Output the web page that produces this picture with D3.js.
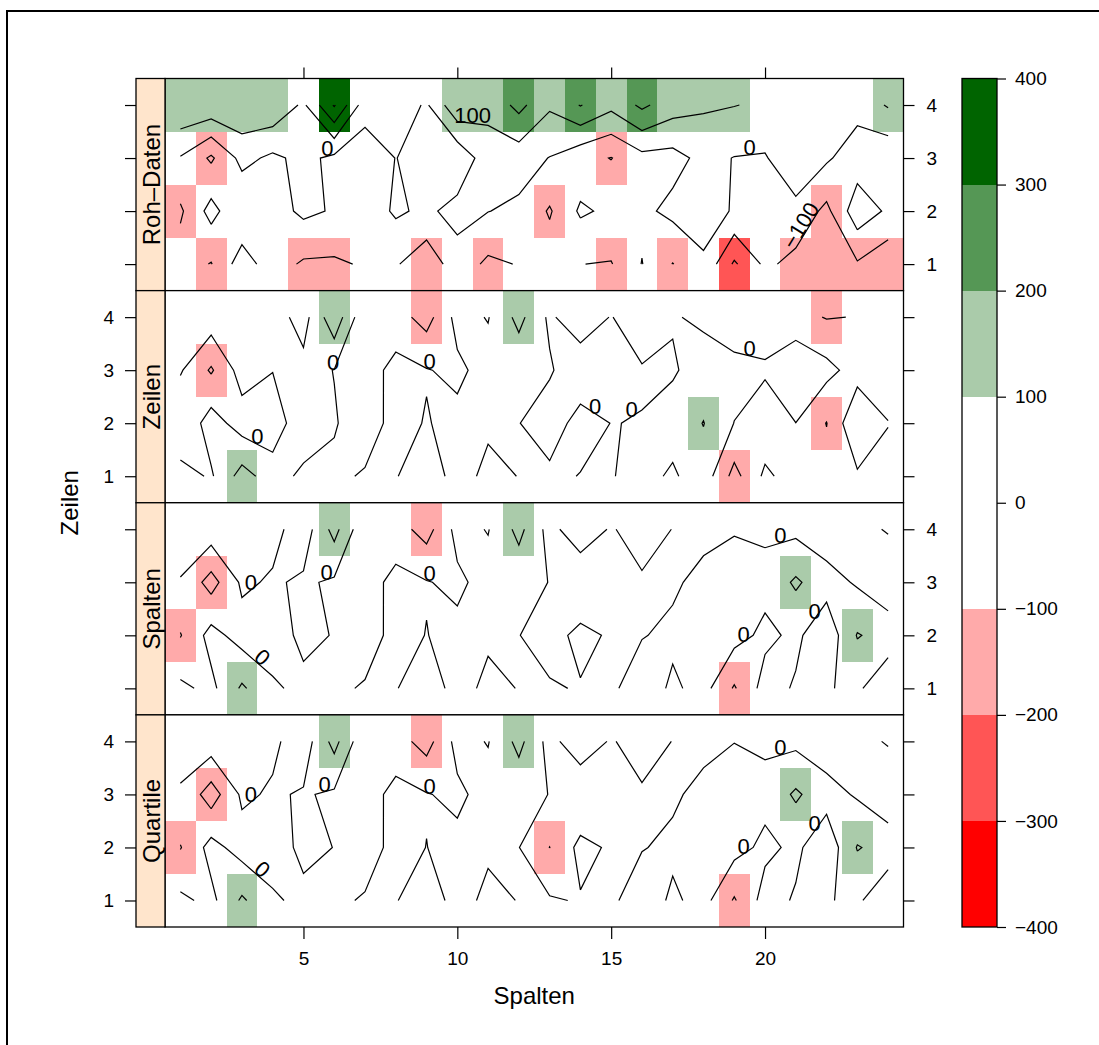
<!DOCTYPE html>
<html><head><meta charset="utf-8">
<script src="https://cdn.jsdelivr.net/npm/d3@7"></script>
<style>
body{margin:0;background:#fff}
svg{display:block}
text{font-family:"Liberation Sans",Arial,Helvetica,sans-serif;fill:#000}
</style>
</head><body>
<svg id="chart" width="1099" height="1045"></svg>
<script>
// ---------- data ----------
const spalten = d3.range(1, 25);            // columns 1..24
const zeilen = [1, 2, 3, 4];                 // rows 1..4
const panelNames = ["Roh–Daten", "Zeilen", "Spalten", "Quartile"];
const xTicks = [5, 10, 15, 20];
const levels = [-400, -300, -200, -100, 0, 100, 200, 300, 400];
const regionColors = ["#FF0000", "#FF5555", "#FFAAAA", "#FFFFFF", "#FFFFFF", "#AACBAA", "#559755", "#006400"];

// values: rows listed from Zeile 1 (bottom) to Zeile 4 (top), 24 columns each
const rohDaten = [
  [-50,-105,52,-56,-113,-115,-90,-90,-167,-43,-120,-95,-48,-99,-105,3,-103,-17,-215,-80,-130,-150,-110,-171],
  [-115,35,-90,-44,21,-9,-60,15,-20,35,2,-20,-110,15,-20,-23,26,49,-10,-40,-31,-125,60,-16],
  [-7,-115,30,-20,28,-23,-61,2,-40,-80,60,44,-3,-68,-103,-30,-34,28,-3,-9,81,14,-56,-80],
  [188,176,183,183,82,310,44,60,-13,180,125,230,114,205,127,220,145,114,103,85,70,50,36,110]
];
const zeilenWerte = [
  [40,-12,140,51,-25,-16,8,5,-57,38,-23,2,25,-4,-5,31,-14,57,-134,20,-47,-60,-14,-46],
  [-90,47,-46,-62,76,6,-40,27,-5,26,15,3,-60,45,-2,4,40,103,-2,-68,-1,-103,93,4],
  [10,-112,42,3,29,-2,-45,30,5,-21,39,27,13,-80,-40,-12,-10,40,40,15,90,31,-43,-76],
  [40,57,60,46,-39,170,-84,-58,-140,33,-5,130,-19,76,-6,90,7,-16,-78,-60,-70,-105,-97,-40]
];
const spaltenWerte = [
  [21,-26,115,18,-31,-16,8,5,-57,38,-23,3,10,-7,-19,57,-17,35,-110,39,-10,-7,20,-90],
  [-105,35,-42,-61,30,-6,-40,27,-2,26,15,2,-40,28,-13,-5,20,40,35,-22,20,-67,106,65],
  [-8,-140,17,-12,15,-15,-45,30,5,-21,39,30,-2,-95,-40,-18,-15,29,60,30,115,40,-12,-76],
  [72,60,60,32,-55,135,-83,-58,-140,33,-5,130,-37,75,-12,63,-3,-29,-9,-16,-24,-60,-30,8]
];
const quartilWerte = [
  [21,-26,115,18,-31,-16,8,5,-57,38,-23,3,10,-7,-19,57,-17,35,-110,39,-10,-7,20,-90],
  [-105,35,-42,-61,30,-2,-40,27,-1,26,15,2,-101,28,-13,-5,20,40,35,-22,20,-67,106,65],
  [-8,-150,17,-12,9,-15,-45,30,5,-21,39,30,-2,-95,-40,-18,-15,29,60,30,115,40,-12,-76],
  [30,60,60,20,-55,135,-83,-58,-140,33,-5,130,-37,75,-12,63,-3,-29,-2,-16,-24,-60,-30,8]
];
const panelData = [rohDaten, zeilenWerte, spaltenWerte, quartilWerte];

// ---------- layout ----------
const svg = d3.select("#chart");
const FONT = '"Liberation Sans",Arial,Helvetica,sans-serif';
const plotL = 165, plotR = 903.5, stripL = 136;
const areaTop = 78.5, areaBottom = 927;
const nP = panelNames.length;
const pH = (areaBottom - areaTop) / nP;

const x = d3.scaleLinear().domain([0.5, 24.5]).range([plotL, plotR]);
const color = d3.scaleThreshold().domain(levels.slice(1, -1)).range(regionColors);

// frame
svg.append("path").attr("d", "M7,1045V11H1099").attr("fill", "none").attr("stroke", "#000").attr("stroke-width", 2);

// ---------- contour lines (marching squares on cell centres) ----------
function contourLines(z, level) {
  const nr = z.length, nc = z[0].length;
  const pts = new Map(), adj = new Map();
  const hKey = (c, r) => "h" + c + "_" + r;
  const vKey = (c, r) => "v" + c + "_" + r;
  const hPt = (c, r) => { const a = z[r][c], b = z[r][c + 1]; return [spalten[c] + (level - a) / (b - a), zeilen[r]]; };
  const vPt = (c, r) => { const a = z[r][c], b = z[r + 1][c]; return [spalten[c], zeilen[r] + (level - a) / (b - a)]; };
  function link(e1, e2) {
    for (const e of [e1, e2]) { pts.set(e.k, e.p); if (!adj.has(e.k)) adj.set(e.k, []); }
    adj.get(e1.k).push(e2.k); adj.get(e2.k).push(e1.k);
  }
  for (let r = 0; r < nr - 1; r++) {
    for (let c = 0; c < nc - 1; c++) {
      const a = z[r][c], b = z[r][c + 1], cc = z[r + 1][c + 1], d = z[r + 1][c];
      const A = a > level, B = b > level, C = cc > level, D = d > level;
      const bottom = A !== B ? { k: hKey(c, r), p: hPt(c, r) } : null;
      const right = B !== C ? { k: vKey(c + 1, r), p: vPt(c + 1, r) } : null;
      const top = C !== D ? { k: hKey(c, r + 1), p: hPt(c, r + 1) } : null;
      const left = D !== A ? { k: vKey(c, r), p: vPt(c, r) } : null;
      const e = [bottom, right, top, left].filter(Boolean);
      if (e.length === 2) link(e[0], e[1]);
      else if (e.length === 4) {
        const center = (a + b + cc + d) / 4 > level;
        if (A === center) { link(bottom, right); link(top, left); }
        else { link(left, bottom); link(right, top); }
      }
    }
  }
  const used = new Set();
  const segKey = (p, q) => (p < q ? p + "|" + q : q + "|" + p);
  function walk(start) {
    const chain = [start]; let cur = start;
    while (true) {
      let next = null;
      for (const n of adj.get(cur)) { const sk = segKey(cur, n); if (!used.has(sk)) { used.add(sk); next = n; break; } }
      if (next === null) break;
      chain.push(next); cur = next;
      if (next === start) break;
    }
    return chain.map(k => pts.get(k));
  }
  const lines = [];
  for (const [k, n] of adj) if (n.length === 1 && adj.get(k).some(m => !used.has(segKey(k, m)))) lines.push(walk(k));
  for (const [k, n] of adj) if (n.some(m => !used.has(segKey(k, m)))) lines.push(walk(k));
  return lines;
}

// ---------- panels ----------
panelData.forEach((z, p) => {
  const top = areaTop + p * pH, bot = top + pH;
  const y = d3.scaleLinear().domain([0.5, 4.5]).range([bot, top]);
  const g = svg.append("g");

  // cells
  const cells = [];
  zeilen.forEach((rv, r) => spalten.forEach((cv, c) => cells.push({ c: cv, r: rv, v: z[r][c] })));
  g.append("g").attr("shape-rendering", "crispEdges").selectAll("rect").data(cells).join("rect")
    .attr("x", d => x(d.c - 0.5)).attr("y", d => y(d.r + 0.5))
    .attr("width", d => x(d.c + 0.5) - x(d.c - 0.5)).attr("height", d => y(d.r - 0.5) - y(d.r + 0.5))
    .attr("fill", d => color(d.v));

  // contours
  const line = d3.line().x(d => x(d[0])).y(d => y(d[1]));
  const ratio = (y(1) - y(2)) / (x(2) - x(1));
  levels.forEach(L => {
    const ls = contourLines(z, L);
    ls.forEach(pts => {
      g.append("path").attr("d", line(pts)).attr("fill", "none").attr("stroke", "#000").attr("stroke-width", 1.2);
      if (pts.length > 5) {
        const slopes = d3.range(pts.length - 1).map(i => (pts[i + 1][1] - pts[i][1]) / (pts[i + 1][0] - pts[i][0]));
        const depth = pts.map(q => Math.min(Math.min(q[0] - 1, 24 - q[0]) / 23, Math.min(q[1] - 1, 4 - q[1]) / 3));
        let loc = d3.minIndex(slopes, s => Math.abs(s));
        let rot = 0;
        if (depth[loc] < 0.05) {
          loc = Math.min(d3.maxIndex(depth), slopes.length - 1);
          rot = Math.atan(slopes[loc] * ratio) * 180 / Math.PI;
        }
        const mx = (x(pts[loc][0]) + x(pts[loc + 1][0])) / 2;
        const my = (y(pts[loc][1]) + y(pts[loc + 1][1])) / 2;
        g.append("text").attr("transform", `translate(${mx},${my}) rotate(${-rot})`)
          .attr("text-anchor", "middle").attr("font-size", 22)
          .text(d3.format("d")(L));
      }
    });
  });

  // border + strip
  g.append("rect").attr("x", plotL).attr("y", top).attr("width", plotR - plotL).attr("height", pH)
    .attr("fill", "none").attr("stroke", "#000").attr("stroke-width", 1.3);
  g.append("rect").attr("x", stripL).attr("y", top).attr("width", plotL - stripL).attr("height", pH)
    .attr("fill", "#FFE5CC").attr("stroke", "#000").attr("stroke-width", 1.3);
  g.append("text").attr("transform", `translate(${stripL + 23.5},${(top + bot) / 2}) rotate(-90)`)
    .attr("text-anchor", "middle").attr("font-size", 24).text(panelNames[p]);

  // y axes (alternating labels)
  const leftAx = d3.axisLeft(y).tickValues(zeilen).tickSize(11).tickPadding(11)
    .tickFormat(p % 2 === 1 ? d3.format("d") : () => "");
  const rightAx = d3.axisRight(y).tickValues(zeilen).tickSize(11).tickPadding(12)
    .tickFormat(p % 2 === 0 ? d3.format("d") : () => "");
  const la = g.append("g").attr("transform", `translate(${stripL},0)`).call(leftAx);
  const ra = g.append("g").attr("transform", `translate(${plotR},0)`).call(rightAx);
  [la, ra].forEach(a => { a.select(".domain").remove(); a.attr("font-size", 19).attr("font-family", FONT); a.selectAll("line").attr("stroke-width", 1.2); });

  if (p === 0) {
    const ta = g.append("g").attr("transform", `translate(0,${top})`)
      .call(d3.axisTop(x).tickValues(xTicks).tickSize(11).tickFormat(() => ""));
    ta.select(".domain").remove(); ta.selectAll("line").attr("stroke-width", 1.2);
  }
  if (p === nP - 1) {
    const ba = g.append("g").attr("transform", `translate(0,${bot})`)
      .call(d3.axisBottom(x).tickValues(xTicks).tickSize(12).tickPadding(13));
    ba.select(".domain").remove(); ba.attr("font-size", 19).attr("font-family", FONT);
    ba.selectAll("line").attr("stroke-width", 1.2);
  }
});

// ---------- axis titles ----------
svg.append("text").attr("x", (plotL + plotR) / 2).attr("y", 1004).attr("text-anchor", "middle")
  .attr("font-size", 24).text("Spalten");
svg.append("text").attr("transform", `translate(78,${(areaTop + areaBottom) / 2}) rotate(-90)`)
  .attr("text-anchor", "middle").attr("font-size", 24).text("Zeilen");

// ---------- colour key ----------
const keyL = 962, keyR = 997;
const yk = d3.scaleLinear().domain([levels[0], levels[levels.length - 1]]).range([areaBottom, areaTop]);
const kg = svg.append("g");
kg.append("g").attr("shape-rendering", "crispEdges").selectAll("rect").data(regionColors).join("rect")
  .attr("x", keyL).attr("width", keyR - keyL)
  .attr("y", (d, i) => yk(levels[i + 1])).attr("height", (d, i) => yk(levels[i]) - yk(levels[i + 1]))
  .attr("fill", d => d);
kg.append("rect").attr("x", keyL).attr("y", areaTop).attr("width", keyR - keyL).attr("height", areaBottom - areaTop)
  .attr("fill", "none").attr("stroke", "#000").attr("stroke-width", 1.3);
const ka = kg.append("g").attr("transform", `translate(${keyR},0)`)
  .call(d3.axisRight(yk).tickValues(levels).tickSize(9).tickPadding(9).tickFormat(d3.format("d")));
ka.select(".domain").remove(); ka.attr("font-size", 19).attr("font-family", FONT);
ka.selectAll("line").attr("stroke-width", 1.2);
</script>
</body></html>
